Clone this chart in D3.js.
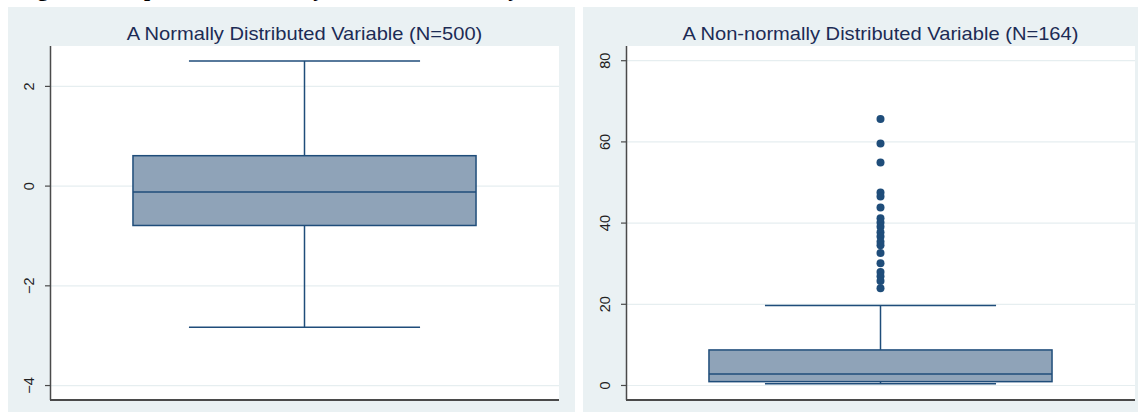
<!DOCTYPE html>
<html>
<head>
<meta charset="utf-8">
<script src="https://cdn.jsdelivr.net/npm/d3@7"></script>
<style>
  html, body { margin: 0; padding: 0; background: #ffffff; }
  svg { display: block; }
</style>
</head>
<body>
<svg id="chart" width="1138" height="412"></svg>
<script>
// ---- data ----
const figureTitle = "Figure 2. Boxplots of a Normally and a Non-normally Distributed Variable";
const panelTitles = ["A Normally Distributed Variable (N=500)", "A Non-normally Distributed Variable (N=164)"];
// [lower whisker, Q1, median, Q3, upper whisker]
const normalBox = [-2.84, -0.80, -0.13, 0.60, 2.50];
const skewedBox = [0.3, 0.82, 2.7, 8.63, 19.6];
const normalOutliers = [];
const skewedOutliers = [65.5, 59.5, 54.8, 47.4, 46.4, 43.7, 41.1, 40.0, 39.0, 37.6, 36.6, 35.3, 34.4, 32.5, 30.0, 27.8, 26.8, 25.6, 23.8];
const normalTicks = [-4, -2, 0, 2];
const skewedTicks = [0, 20, 40, 60, 80];
const normalDomain = [-4.3, 2.8];
const skewedDomain = [-3.7, 83.5];

// ---- style ----
const panelBg = "#eaf1f3";
const gridColor = "#e6eef0";
const boxFill = "#8fa3b8";
const boxStroke = "#1f4d7a";
const axisColor = "#4a4a4a";
const titleColor = "#1c2b55";

const svg = d3.select("#chart");

// partially visible figure caption at the very top (cut off as in the reference)
svg.append("text")
  .attr("x", 18).attr("y", -4)
  .attr("font-family", "Liberation Serif, Times New Roman, serif")
  .attr("font-weight", "bold")
  .attr("font-size", 22)
  .attr("fill", "#000")
  .text(figureTitle);

const panels = [
  { bg: [8, 7, 567, 405], plot: { x0: 50, x1: 559, y0: 46, y1: 400 },
    title: panelTitles[0], box: normalBox, outliers: normalOutliers, ticks: normalTicks, domain: normalDomain },
  { bg: [583, 7, 555, 405], plot: { x0: 626, x1: 1135, y0: 46, y1: 400 },
    title: panelTitles[1], box: skewedBox, outliers: skewedOutliers, ticks: skewedTicks, domain: skewedDomain }
];

panels.forEach(p => {
  const g = svg.append("g");
  g.append("rect")
    .attr("x", p.bg[0]).attr("y", p.bg[1])
    .attr("width", p.bg[2]).attr("height", p.bg[3])
    .attr("fill", panelBg);

  const { x0, x1, y0, y1 } = p.plot;
  g.append("rect")
    .attr("x", x0).attr("y", y0)
    .attr("width", x1 - x0).attr("height", y1 - y0)
    .attr("fill", "#ffffff");

  const y = d3.scaleLinear().domain(p.domain).range([y1, y0]);
  const x = d3.scaleLinear().domain([0, 1]).range([x0, x1]);

  // grid lines
  const grid = g.append("g").attr("transform", `translate(${x0},0)`)
    .call(d3.axisLeft(y).tickValues(p.ticks).tickSize(-(x1 - x0)).tickFormat(""));
  grid.select(".domain").remove();
  grid.selectAll("line").attr("stroke", gridColor).attr("stroke-width", 1.2);

  // title (horizontally stretched as in the reference)
  const t = g.append("text")
    .attr("x", (x0 + x1) / 2).attr("y", 40)
    .attr("text-anchor", "middle")
    .attr("font-family", "Liberation Sans, Arial, sans-serif")
    .attr("font-size", 18.5)
    .attr("fill", titleColor)
    .text(p.title);
  const len = t.node().getComputedTextLength();
  t.attr("textLength", len * 1.087).attr("lengthAdjust", "spacingAndGlyphs");

  // box plot
  const [wLo, q1, med, q3, wHi] = p.box;
  const cx = x(0.5);
  const bxL = x(0.163), bxR = x(0.837);
  const cL = x(0.273), cR = x(0.727);
  const mk = g.append("g").attr("stroke", boxStroke).attr("stroke-width", 1.5);
  // whisker stems
  mk.append("line").attr("x1", cx).attr("x2", cx).attr("y1", y(q3)).attr("y2", y(wHi));
  mk.append("line").attr("x1", cx).attr("x2", cx).attr("y1", y(q1)).attr("y2", y(wLo));
  // caps
  mk.append("line").attr("x1", cL).attr("x2", cR).attr("y1", y(wHi)).attr("y2", y(wHi));
  mk.append("line").attr("x1", cL).attr("x2", cR).attr("y1", y(wLo)).attr("y2", y(wLo));
  // box
  mk.append("rect")
    .attr("x", bxL).attr("y", y(q3))
    .attr("width", bxR - bxL).attr("height", y(q1) - y(q3))
    .attr("fill", boxFill);
  // median
  mk.append("line").attr("x1", bxL).attr("x2", bxR).attr("y1", y(med)).attr("y2", y(med));

  // outliers
  g.selectAll("circle.out").data(p.outliers).enter().append("circle")
    .attr("class", "out")
    .attr("cx", cx).attr("cy", d => y(d)).attr("r", 4)
    .attr("fill", boxStroke);

  // left axis
  const ax = g.append("g").attr("transform", `translate(${x0},0)`)
    .call(d3.axisLeft(y).tickValues(p.ticks).tickSize(5).tickSizeOuter(0).tickFormat(d3.format("d")));
  ax.select(".domain").attr("stroke", axisColor).attr("stroke-width", 1.5)
    .attr("d", `M0.5,${y0}V${y1}`);
  ax.selectAll(".tick line").attr("stroke", axisColor).attr("stroke-width", 1.2);
  ax.selectAll(".tick text")
    .attr("font-family", "Liberation Sans, Arial, sans-serif")
    .attr("font-size", 14.5)
    .attr("fill", "#222")
    .attr("text-anchor", "middle")
    .attr("x", 0).attr("y", 0).attr("dy", null)
    .attr("transform", "translate(-13,0) rotate(-90)")
    .attr("dominant-baseline", "text-after-edge");

  // bottom axis line
  g.append("line")
    .attr("x1", x0).attr("x2", x1).attr("y1", y1).attr("y2", y1)
    .attr("stroke", axisColor).attr("stroke-width", 1.8);
});
</script>
</body>
</html>
